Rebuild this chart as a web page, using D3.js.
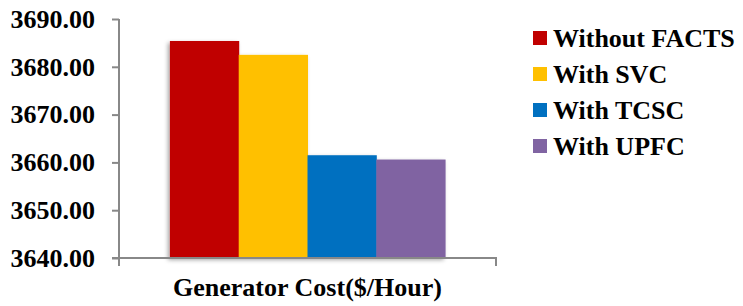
<!DOCTYPE html>
<html>
<head>
<meta charset="utf-8">
<script src="https://cdn.jsdelivr.net/npm/d3@7"></script>
</head>
<body style="margin:0; background:#fff">
<svg></svg>
<script>
// Chart size and margins
const width = 743, height = 306;
const margin = { top: 19, right: 247, bottom: 48, left: 119 };
const fontFamily = "Liberation Serif";

// Data
const categories = ["Generator Cost($/Hour)"];
const seriesNames = ["Without FACTS", "With SVC", "With TCSC", "With UPFC"];
const seriesValues = [3685.4, 3682.5, 3661.5, 3660.6];
const seriesColors = ["#c00000", "#ffc000", "#0070c0", "#8064a2"];
const yTicks = [3640, 3650, 3660, 3670, 3680, 3690];

const svg = d3.select("svg")
    .attr("width", width)
    .attr("height", height);

// soft shadow behind the bars
const defs = svg.append("defs");
defs.append("filter")
    .attr("id", "shadow")
    .attr("x", "-10%").attr("y", "-10%")
    .attr("width", "120%").attr("height", "120%")
  .append("feDropShadow")
    .attr("dx", -2).attr("dy", 2)
    .attr("stdDeviation", 2)
    .attr("flood-color", "#000")
    .attr("flood-opacity", 0.35);

// Scales
const x0 = d3.scaleBand()
    .domain(categories)
    .range([margin.left, width - margin.right])
    .paddingOuter(0.185);

const x1 = d3.scaleBand()
    .domain(seriesNames)
    .range([0, x0.bandwidth()]);

const y = d3.scaleLinear()
    .domain([3640, 3690])
    .range([height - margin.bottom, margin.top]);

// Bars
const bars = svg.append("g").attr("filter", "url(#shadow)");
bars.selectAll("rect")
    .data(seriesNames)
    .enter()
    .append("rect")
    .attr("x", d => x0(categories[0]) + x1(d))
    .attr("y", (d, i) => y(seriesValues[i]))
    .attr("width", x1.bandwidth() + 0.5)
    .attr("height", (d, i) => y(3640) - y(seriesValues[i]))
    .attr("fill", (d, i) => seriesColors[i]);

// Y axis
const yAxis = svg.append("g")
    .attr("transform", `translate(${margin.left},0)`)
    .call(d3.axisLeft(y).tickValues(yTicks).tickFormat(d3.format(".2f")).tickSize(7).tickPadding(17));
yAxis.select(".domain").attr("stroke", "#888").attr("stroke-width", 2).attr("d", `M0,${margin.top}V${height - margin.bottom + 8}`);
yAxis.selectAll(".tick line").attr("stroke", "#888").attr("stroke-width", 2);
yAxis.selectAll(".tick text")
    .attr("font-family", fontFamily)
    .attr("font-size", 26)
    .attr("font-weight", "bold")
    .attr("fill", "#000");

// X axis
const xAxis = svg.append("g")
    .attr("transform", `translate(0,${y(3640)})`)
    .call(d3.axisBottom(x0).tickSize(0).tickFormat(""));
xAxis.select(".domain").attr("stroke", "#888").attr("stroke-width", 2)
    .attr("d", `M${margin.left - 7},0H${width - margin.right}V8`);

// Category label
svg.append("text")
    .attr("x", x0(categories[0]) + x0.bandwidth() / 2)
    .attr("y", 296)
    .attr("text-anchor", "middle")
    .attr("font-family", fontFamily)
    .attr("font-weight", "bold")
    .attr("font-size", 26)
    .text(categories[0]);

// Legend
const legend = svg.append("g")
    .attr("transform", "translate(533,38)");
const items = legend.selectAll("g")
    .data(seriesNames)
    .enter()
    .append("g")
    .attr("transform", (d, i) => `translate(0,${i * 36})`);
items.append("rect")
    .attr("x", 0).attr("y", -7)
    .attr("width", 14).attr("height", 14)
    .attr("fill", (d, i) => seriesColors[i]);
items.append("text")
    .attr("x", 20)
    .attr("y", 9)
    .attr("font-family", fontFamily)
    .attr("font-weight", "bold")
    .attr("font-size", 26)
    .text(d => d);
</script>
</body>
</html>
